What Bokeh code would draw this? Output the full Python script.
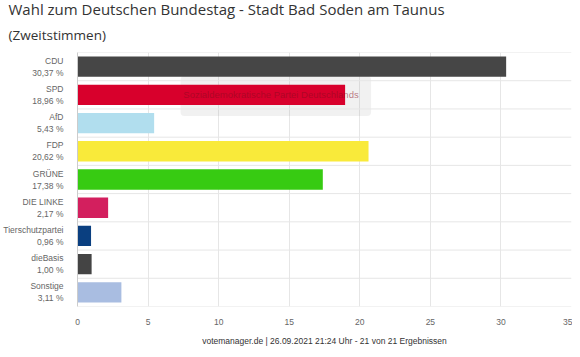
from bokeh.plotting import figure
from bokeh.models import FactorRange, Span, Title, BoxAnnotation, Label, FixedTicker
from bokeh.embed import file_html
from bokeh.resources import INLINE

parties = ["CDU", "SPD", "AfD", "FDP", "GRÜNE", "DIE LINKE", "Tierschutzpartei", "dieBasis", "Sonstige"]
shares = [30.37, 18.96, 5.43, 20.62, 17.38, 2.17, 0.96, 1.00, 3.11]
colors = ["#464646", "#d8002c", "#b1deee", "#f9ea3a", "#37cb12", "#d31f5e", "#0a3f80", "#444444", "#a9bde1"]
x_ticks = [0, 5, 10, 15, 20, 25, 30, 35]

labels = [f"{n}\n{v:.2f} %".replace(".", ",") for n, v in zip(parties, shares)]
factors = list(reversed(labels))
p = figure(frame_width=494, frame_height=254, y_range=FactorRange(factors=factors), x_range=(0, 35),
           output_backend="svg", toolbar_location=None, title=None,
           min_border_left=69, min_border_right=1, min_border_top=40, min_border_bottom=36)
p.outline_line_color = None
p.background_fill_color = "white"

# tooltip overlay (hover artifact)
p.add_layout(BoxAnnotation(left=7.3, right=20.8, top=8.17, bottom=6.75, fill_color="#888888",
                           fill_alpha=0.12, line_color=None, level="underlay",
                           border_radius=4))

p.hbar(y=labels, right=shares, left=0, height=0.72, color=colors, line_color=None)

p.add_layout(Label(x=7.5, y=7.5, text="Sozialdemokratische Partei Deutschlands", text_color="#8a0a20",
                   text_alpha=0.55, text_font_size="9.5px", text_baseline="middle",
                   text_font="Liberation Sans", level="overlay"))

# axes
p.xaxis.ticker = FixedTicker(ticks=x_ticks)
p.xaxis.major_tick_line_color = None
p.xaxis.minor_tick_line_color = None
p.xaxis.axis_line_color = None
p.xaxis.major_label_text_font = "Liberation Sans"
p.xaxis.major_label_text_font_size = "8.5px"
p.xaxis.major_label_text_color = "#666666"
p.xaxis.major_label_standoff = 6
p.xaxis.axis_label = "votemanager.de | 26.09.2021 21:24 Uhr - 21 von 21 Ergebnissen"
p.xaxis.axis_label_text_font = "Liberation Sans"
p.xaxis.axis_label_text_font_size = "8.5px"
p.xaxis.axis_label_text_font_style = "normal"
p.xaxis.axis_label_text_color = "#333333"
p.xaxis.axis_label_standoff = 8

p.yaxis.major_tick_line_color = None
p.yaxis.minor_tick_line_color = None
p.yaxis.axis_line_color = "#cccccc"
p.yaxis.major_label_text_font = "Liberation Sans"
p.yaxis.major_label_text_font_size = "8.5px"
p.yaxis.major_label_text_color = "#666666"
p.yaxis.major_label_text_align = "right"
p.yaxis.major_label_standoff = 8

p.xgrid.grid_line_color = "#e6e6e6"
p.ygrid.grid_line_color = None
for i in range(len(parties) + 1):
    p.add_layout(Span(location=i, dimension="width", line_color="#e6e6e6", line_width=1, level="underlay"))

p.add_layout(Title(text="(Zweitstimmen)", text_font="Open Sans", text_font_size="13.5px",
                   text_font_style="normal", text_color="#333333", align="left", offset=-69,
                   standoff=18, text_line_height=1.0), "above")
p.add_layout(Title(text="Wahl zum Deutschen Bundestag - Stadt Bad Soden am Taunus", text_font="Open Sans",
                   text_font_size="15px", text_font_style="normal", text_color="#333333",
                   align="left", offset=-69, standoff=-8, text_line_height=1.0), "above")

open("out.html", "w").write(file_html(p, INLINE))
